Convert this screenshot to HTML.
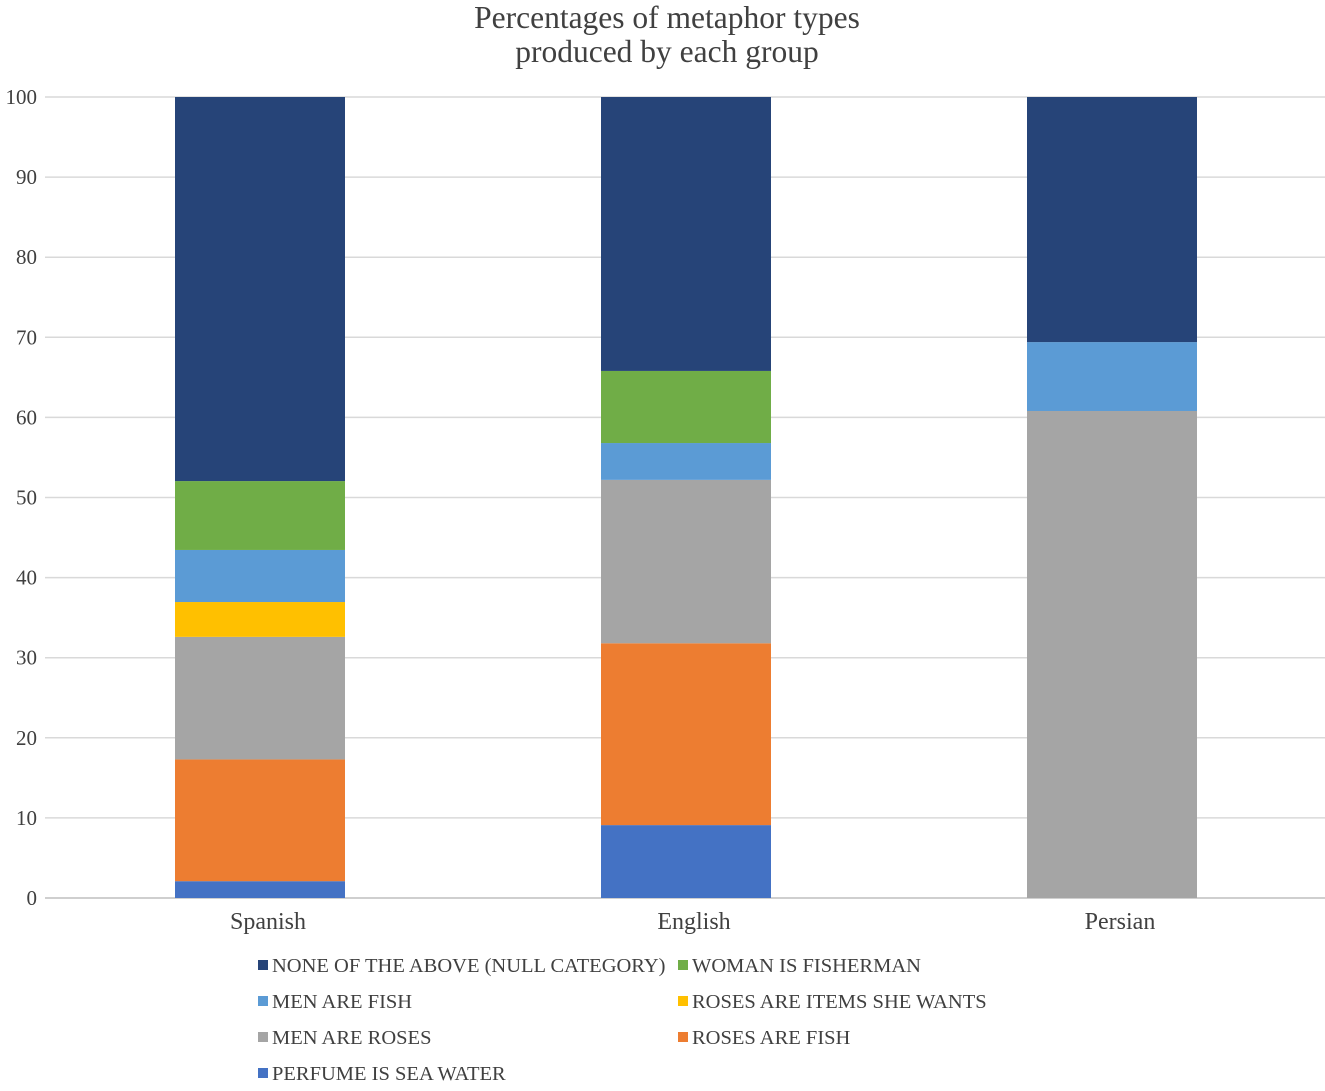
<!DOCTYPE html>
<html><head><meta charset="utf-8"><style>
body{margin:0;background:#fff;font-family:"Liberation Serif",serif;}
svg text{font-family:"Liberation Serif",serif;fill:#404040;}
</style></head><body>
<svg id="chart" width="1325" height="1086">
<text x="667" y="28" font-size="31.5" text-anchor="middle">Percentages of metaphor types</text>
<text x="667" y="62" font-size="31.5" text-anchor="middle">produced by each group</text>
<g id="grid"></g><g id="bars"></g><g id="axis"></g><g id="legend"></g>
</svg>
<script>
const categories=["Spanish","English","Persian"];
const seriesNames=["PERFUME IS SEA WATER","ROSES ARE FISH","MEN ARE ROSES","ROSES ARE ITEMS SHE WANTS","MEN ARE FISH","WOMAN IS FISHERMAN","NONE OF THE ABOVE (NULL CATEGORY)"];
const perfume=[2.1,9.1,0];
const rosesFish=[15.2,22.7,0];
const menRoses=[15.3,20.4,60.8];
const rosesItems=[4.35,0,0];
const menFish=[6.5,4.6,8.6];
const womanFisher=[8.6,9.0,0];
const noneAbove=[47.95,34.2,30.6];
const yTicks=[0,10,20,30,40,50,60,70,80,90,100];
const colors=["#4472C4","#ED7D31","#A5A5A5","#FFC000","#5B9BD5","#70AD47","#264478"];
const series=[perfume,rosesFish,menRoses,rosesItems,menFish,womanFisher,noneAbove];
const NS="http://www.w3.org/2000/svg";
const x0=47,x1=1325,y0=898,y1=97;
const y=v=>y0-(v/100)*(y0-y1);
const bandW=426;
const barW=170;
const xc=i=>x0+bandW*(i+0.5);
function mk(t,a,p){const e=document.createElementNS(NS,t);for(const k in a)e.setAttribute(k,a[k]);p.appendChild(e);return e;}
const grid=document.getElementById('grid'),axis=document.getElementById('axis'),bars=document.getElementById('bars'),legend=document.getElementById('legend');
yTicks.forEach(t=>{
 const l=mk('line',{x1:45,x2:x1,y1:y(t),y2:y(t),stroke:t===0?'#bfbfbf':'#d9d9d9','stroke-width':1.5},grid);
 
 
 const tx=mk('text',{x:37,y:y(t)+7,'font-size':21,'text-anchor':'end'},axis);
 tx.textContent=t;
 
 
});
categories.forEach((c,i)=>{
 let cum=0;
 series.forEach((s,j)=>{
  const v=s[i]; if(v>0){
  const r=mk('rect',{x:xc(i)-barW/2,y:y(cum+v),width:barW,height:y(cum)-y(cum+v),fill:colors[j]},bars);
  
  }
  cum+=v;
 });
 const t=mk('text',{x:xc(i)+8,y:929,'font-size':24,'text-anchor':'middle'},axis);
 t.textContent=c;
 
 
});
const order=[6,5,4,3,2,1,0];
order.forEach((j,k)=>{
 const col=k%2,row=Math.floor(k/2);
 const lx=col?678:258,ly=965+row*36;
 const g=mk('g',{},legend);
 
 
 mk('rect',{x:lx,y:ly-5,width:10,height:10,fill:colors[j]},g);
 const t=mk('text',{x:lx+14,y:ly+7,'font-size':20.5},g);
 t.textContent=seriesNames[j];
});
</script>
</body></html>
